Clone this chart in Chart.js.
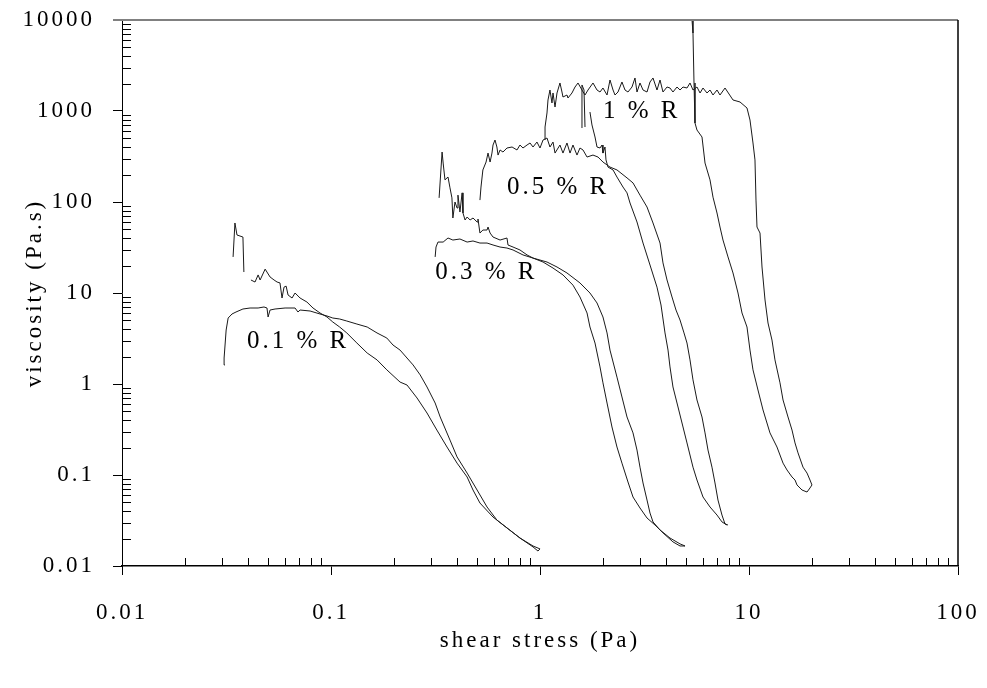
<!DOCTYPE html>
<html><head><meta charset="utf-8">
<script src="https://cdn.jsdelivr.net/npm/chart.js@4.4.1/dist/chart.umd.min.js"></script>
<style>html,body{margin:0;padding:0;background:#fff;}canvas{display:block;}</style>
</head><body>
<canvas id="c" width="987" height="688"></canvas>
<script>
// ---- axis decades / tick labels ----
const xDecades = [0.01, 0.1, 1, 10, 100];
const xTickLabels = ['0.01', '0.1', '1', '10', '100'];
const yDecades = [0.01, 0.1, 1, 10, 100, 1000, 10000];
const yTickLabels = ['0.01', '0.1', '1', '10', '100', '1000', '10000'];

// ---- series: shear stress (Pa) and viscosity (Pa.s) ----
const stress_01a = [0.034,0.0347,0.0355,0.0379,0.0383,0.0396,0.0414,0.0433,0.0448,0.0458,0.0484,0.0511,0.0534,0.0552,0.057,0.0583,0.0596,0.061,0.0623,0.0651,0.0673,0.0711,0.0767,0.082,0.0886,0.0957,0.102,0.11,0.119,0.133,0.149,0.166,0.185,0.214,0.231,0.258,0.288,0.321,0.359,0.401,0.448,0.478,0.516,0.596,0.695,0.802,0.926,0.978,1.0];
const visc_01a = [24.9,58.8,43.4,41.2,17.0,null,13.9,13.2,15.8,13.9,18.3,15.0,13.9,13.2,12.9,8.81,11.6,11.9,9.51,8.81,10.0,8.81,7.96,6.84,6.03,5.45,4.80,4.23,3.64,2.82,2.19,1.84,1.43,1.05,0.975,0.702,0.480,0.312,0.203,0.135,0.0951,0.0684,0.0492,0.0345,0.0262,0.0203,0.0162,0.0146,0.0154];

const stress_01b = [0.0311,0.0308,0.0315,0.0322,0.0336,0.0351,0.0379,0.041,0.0448,0.0478,0.0494,0.05,0.0511,0.054,0.0603,0.0673,0.0695,0.0711,0.0794,0.0886,0.0957,0.102,0.11,0.119,0.133,0.149,0.166,0.185,0.198,0.214,0.231,0.247,0.267,0.288,0.315,0.333,0.371,0.401,0.448,0.5,0.558,0.622,0.695,0.802,0.926,1.0];
const visc_01b = [1.62,1.93,3.92,5.31,5.88,6.18,6.67,6.84,6.84,7.02,6.84,5.45,6.50,6.67,6.84,6.84,6.18,6.50,6.34,5.88,5.59,5.31,5.18,4.92,4.56,4.23,3.64,3.20,2.68,2.36,1.93,1.62,1.26,0.927,0.618,0.434,0.242,0.158,0.105,0.0684,0.0445,0.032,0.0262,0.0203,0.0166,0.0154];

const stress_03a = [0.329,0.340,0.344,0.351,0.359,0.363,0.371,0.379,0.383,0.392,0.401,0.405,0.414,0.424,0.428,0.438,0.448,0.463,0.478,0.500,0.505,0.516,0.533,0.558,0.564,0.577,0.596,0.644,0.695,0.703,0.743,0.802,0.867,0.926,1.034,1.154,1.288,1.438,1.553,1.679,1.734,1.833,1.937,2.001,2.093,2.210,2.335,2.467,2.636,2.786,3.009,3.251,3.550,3.878,4.328,4.677,4.942];
const visc_03a = [111,354,268,175,184,188,143,111,66.7,100,85.9,119,77.6,126,75.7,63.4,68.4,63.4,66.7,60.3,65.0,45.6,49.2,49.2,53.1,45.6,41.2,38.2,40.2,33.7,32.0,29.7,26.2,24.2,21.9,18.8,15.8,12.2,9.04,6.03,4.23,2.82,1.54,1.03,0.618,0.337,0.203,0.135,0.0838,0.0573,0.0434,0.0337,0.0282,0.0231,0.0184,0.0166,0.0166];

const stress_03b = [0.315,0.318,0.325,0.344,0.363,0.383,0.414,0.448,0.478,0.516,0.558,0.596,0.644,0.695,0.743,0.829,0.926,1.080,1.206,1.346,1.553,1.734,1.874,2.001,2.093,2.162,2.335,2.467,2.608,2.786,2.911,3.009,3.111,3.251,3.360,3.473,3.752,4.188,4.677,4.942];
const visc_03b = [24.9,32.0,36.3,36.3,40.2,38.2,39.2,36.3,37.3,35.4,35.4,33.7,32.0,31.2,29.7,26.2,24.2,21.9,19.3,16.6,12.9,10.0,7.77,5.45,3.64,2.36,1.19,0.720,0.434,0.290,0.188,0.122,0.0817,0.0531,0.0382,0.0305,0.0249,0.0203,0.0175,0.0166];

const stress_05a = [1.588,1.588,1.624,1.642,1.697,1.734,1.773,1.833,1.874,1.937,1.980,2.001,2.046,2.069,2.115,2.236,2.335,2.495,2.608,2.696,2.911,3.111,3.360,3.629,3.793,3.964,4.098,4.188,4.328,4.574,4.833,5.050,5.395,5.637,6.025,6.508,7.030,7.425,7.848];
const visc_05a = [650,1932,1701,667,null,975,702,518,402,392,423,345,402,290,242,225,188,146,126,97.5,60.3,35.4,20.3,11.6,7.38,3.64,2.36,1.54,0.927,0.559,0.337,0.225,0.122,0.0881,0.0573,0.0445,0.0363,0.0305,0.0282];

const stress_05b = [0.516,0.522,0.533,0.552,0.564,0.577,0.589,0.596,0.609,0.622,0.630,0.644,0.665,0.695,0.735,0.776,0.802,0.829,0.867,0.896,0.926,0.967,1.0,1.034,1.080,1.116,1.154,1.180,1.246,1.288,1.346,1.392,1.438,1.503,1.553,1.606,1.679,1.793,1.895,2.001,2.162,2.335,2.608,2.786,3.009,3.251,3.473,3.752,3.877,4.053,4.282,4.474,4.677,4.887,5.050,5.221,5.395,5.637,5.958,6.160,6.365,6.650,6.875,7.105,7.425,7.674,7.935];
const visc_05b = [105,146,225,275,345,275,345,423,480,402,328,373,354,392,402,373,423,392,423,445,402,456,392,480,505,402,456,345,423,345,445,345,423,328,392,373,312,328,312,275,242,225,184,162,119,88.1,58.8,35.4,21.4,13.9,9.04,6.50,5.05,3.64,2.82,1.84,1.11,0.667,0.434,0.290,0.188,0.122,0.0817,0.0531,0.0363,0.029,0.0282];

const stress_1a = [5.279,5.337,5.395,5.456,5.516,5.637,5.958,6.160,6.508,6.726,7.030,7.264,7.508,7.935,8.384,8.859,9.258,9.781,10.11,10.45,11.04,11.67,12.60,13.61,14.55,15.20,16.06,16.60,16.97,17.93,18.95,19.58];
const visc_1a = [18800,10000,7195,2031,738,618,518,268,175,113,75.7,53.1,38.2,24.9,16.6,10.0,6.03,4.23,2.36,1.43,0.859,0.518,0.290,0.203,0.135,0.1135,0.0951,0.0881,0.0777,0.0684,0.065,0.072];

const stress_1b = [1.057,1.057,1.080,1.092,1.116,1.141,1.154,1.180,1.206,1.246,1.274,1.288,1.346,1.361,1.422,1.471,1.520,1.588,1.642,1.697,1.793,1.874,1.937,2.001,2.093,2.162,2.236,2.285,2.362,2.467,2.551,2.636,2.755,2.848,2.911,3.009,3.111,3.251,3.360,3.473,3.629,3.752,3.877,4.053,4.188,4.328,4.524,4.677,4.833,5.050,5.221,5.395,5.637,5.832,6.025,6.295,6.508,6.726,7.030,7.264,7.678,8.384,9.057,9.781,10.11,10.45,10.68,10.80,10.92,11.29,11.54,11.93,12.33,12.88,13.31,14.07,14.55,15.37,16.06,16.60,17.16,18.13,18.95,19.58,20.01,19.58];
const visc_1b = [480,667,951,1321,1701,1225,1577,1106,1577,2031,1617,1425,1499,1389,1577,1835,2031,1701,1499,1701,2031,1701,1617,1789,1499,2191,1701,1499,1617,2083,1701,1617,1835,2305,1617,2031,1701,1617,2083,2305,1701,2191,1617,1835,1789,1617,1835,1701,1835,1789,2031,1701,1835,1577,1789,1577,1701,1499,1701,1499,1789,1321,1256,1079,796,445,290,105,53.1,45.6,19.3,8.38,4.68,3.04,1.84,1.03,0.667,0.434,0.312,0.225,0.175,0.122,0.105,0.0881,0.0777,0.072];

// ---- curve labels (text and the data point they sit at) ----
const labelTexts = ['0.1 % R', '0.3 % R', '0.5 % R', '1 % R'];
const labelStress = [0.0396, 0.315, 0.695, 2.0];
const labelVisc = [2.97, 17.0, 143, 1000];

const seriesList = [
  [stress_01a, visc_01a], [stress_01b, visc_01b],
  [stress_03a, visc_03a], [stress_03b, visc_03b],
  [stress_05a, visc_05a], [stress_05b, visc_05b],
  [stress_1a, visc_1a], [stress_1b, visc_1b]
];

const FONT = '"Liberation Serif", "Times New Roman", serif';
const SPACING = '3px';

function isPow10(v) { const l = Math.log10(v); return Math.abs(l - Math.round(l)) < 1e-6; }
function buildLogTicks(decades) {
  const out = [];
  decades.forEach((d, i) => {
    out.push({ value: d, major: true });
    if (i < decades.length - 1) for (let m = 2; m <= 9; m++) out.push({ value: +(d * m).toPrecision(6), major: false });
  });
  return out;
}
function labelFor(decades, labels, v) {
  for (let i = 0; i < decades.length; i++) if (Math.abs(Math.log10(v) - Math.log10(decades[i])) < 1e-6) return labels[i];
  return '';
}
function noPad(s) { s.paddingTop = 0; s.paddingBottom = 0; s.paddingLeft = 0; s.paddingRight = 0; }

const datasets = seriesList.map(([xs, ys]) => ({
  data: xs.map((x, i) => ({ x: x, y: ys[i] })),
  showLine: true, borderColor: '#1a1a1a', borderWidth: 1, pointRadius: 0,
  tension: 0, spanGaps: false, fill: false
}));

const spacingPlugin = {
  id: 'spacing',
  beforeUpdate(chart) { chart.ctx.letterSpacing = SPACING; },
  beforeLayout(chart) { chart.ctx.letterSpacing = SPACING; },
  beforeDraw(chart) {
    const ctx = chart.ctx;
    ctx.save(); ctx.fillStyle = '#fff'; ctx.fillRect(0, 0, chart.width, chart.height); ctx.restore();
    ctx.letterSpacing = SPACING;
  }
};

const decorPlugin = {
  id: 'decor',
  afterDatasetsDraw(chart) {
    const ctx = chart.ctx, xs = chart.scales.x, ys = chart.scales.y;
    ctx.save();
    ctx.font = '25px ' + FONT;
    ctx.fillStyle = '#000';
    ctx.textAlign = 'left';
    ctx.textBaseline = 'middle';
    ctx.letterSpacing = '3px';
    labelTexts.forEach((t, i) => {
      ctx.fillText(t, xs.getPixelForValue(labelStress[i]), ys.getPixelForValue(labelVisc[i]));
    });
    ctx.restore();
  },
  afterDraw(chart) {
    const ctx = chart.ctx, a = chart.chartArea, xs = chart.scales.x, ys = chart.scales.y;
    ctx.save();
    ctx.strokeStyle = '#000';
    ctx.lineWidth = 1;
    ctx.beginPath();
    xs.ticks.forEach(t => {
      if (!isPow10(t.value)) {
        const px = Math.round(xs.getPixelForValue(t.value)) + 0.5;
        ctx.moveTo(px, a.bottom); ctx.lineTo(px, a.bottom - 8);
      }
    });
    ys.ticks.forEach(t => {
      if (!isPow10(t.value)) {
        const py = Math.round(ys.getPixelForValue(t.value)) + 0.5;
        ctx.moveTo(a.left, py); ctx.lineTo(a.left + 9, py);
      }
    });
    ctx.stroke();
    // top frame (grey) and right frame (black)
    ctx.strokeStyle = '#808080';
    ctx.lineWidth = 2;
    ctx.beginPath(); ctx.moveTo(a.left - 9, a.top); ctx.lineTo(a.right, a.top); ctx.stroke();
    ctx.strokeStyle = '#000';
    ctx.lineWidth = 1.5;
    ctx.beginPath(); ctx.moveTo(a.right, a.top); ctx.lineTo(a.right, a.bottom); ctx.stroke();
    ctx.restore();
  }
};

new Chart(document.getElementById('c'), {
  type: 'scatter',
  data: { datasets: datasets },
  plugins: [spacingPlugin, decorPlugin],
  options: {
    responsive: false,
    animation: false,
    events: [],
    layout: { padding: { left: 0, top: 20, right: 29, bottom: 0 } },
    plugins: { legend: { display: false }, tooltip: { enabled: false } },
    scales: {
      x: {
        type: 'logarithmic', position: 'bottom', min: 0.01, max: 100,
        afterBuildTicks: s => { s.ticks = buildLogTicks(xDecades); },
        afterFit: s => { s.height = 122; noPad(s); },
        border: { display: true, color: '#000', width: 1.5 },
        grid: {
          drawOnChartArea: false, drawTicks: true, tickLength: 9,
          color: c => (c.tick && isPow10(c.tick.value)) ? '#000' : 'rgba(0,0,0,0)', lineWidth: 1
        },
        ticks: {
          autoSkip: false, maxRotation: 0, minRotation: 0, padding: 24,
          color: '#000', font: { family: FONT, size: 23 },
          callback: (v) => labelFor(xDecades, xTickLabels, v)
        },
        title: {
          display: true, text: 'shear stress (Pa)', color: '#000',
          font: { family: FONT, size: 23 }, padding: { top: 0, bottom: 33 }
        }
      },
      y: {
        type: 'logarithmic', position: 'left', min: 0.01, max: 10000,
        afterBuildTicks: s => { s.ticks = buildLogTicks(yDecades); },
        afterFit: s => { s.width = 122; noPad(s); },
        border: { display: true, color: '#000', width: 1 },
        grid: {
          drawOnChartArea: false, drawTicks: true, tickLength: 9,
          color: c => (c.tick && isPow10(c.tick.value)) ? '#000' : 'rgba(0,0,0,0)', lineWidth: 1
        },
        ticks: {
          autoSkip: false, padding: 18,
          color: '#000', font: { family: FONT, size: 23 },
          callback: (v) => labelFor(yDecades, yTickLabels, v)
        },
        title: {
          display: true, text: 'viscosity (Pa.s)', color: '#000',
          font: { family: FONT, size: 23 }, padding: { top: 21, bottom: 0 }
        }
      }
    }
  }
});
</script>
</body></html>
